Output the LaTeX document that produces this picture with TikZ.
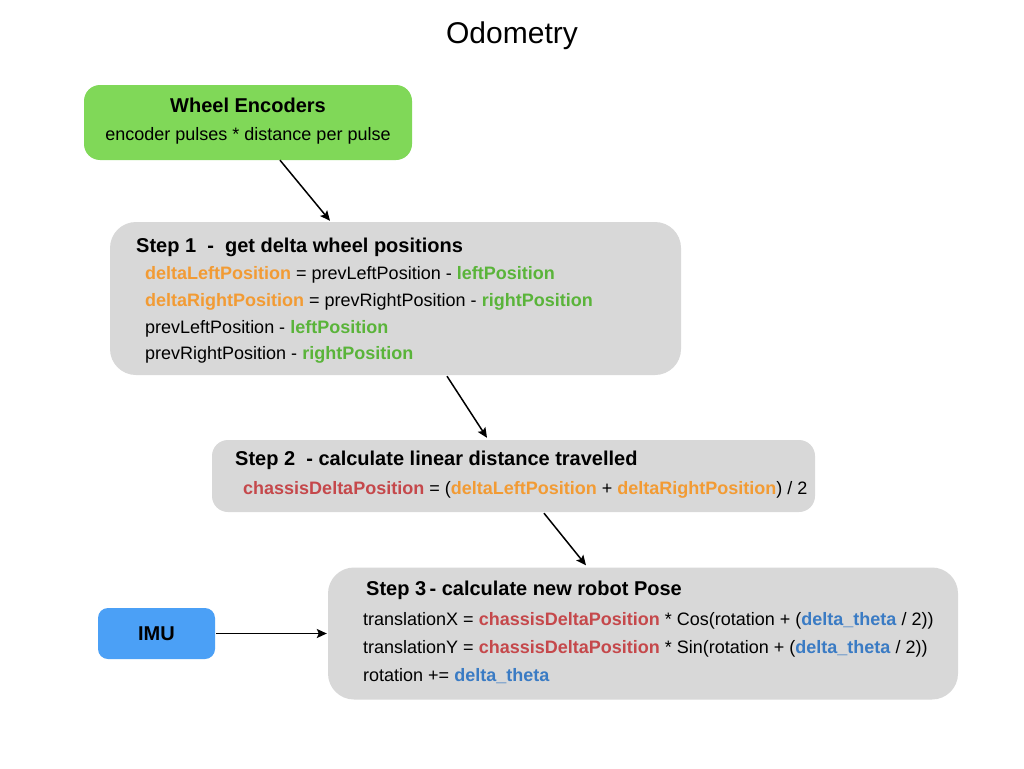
\documentclass[tikz,border=0pt]{standalone}
\usepackage{fontspec}
\setmainfont{Liberation Sans}
\usetikzlibrary{arrows.meta, positioning}

\definecolor{encgreen}{HTML}{80D858}
\definecolor{stepgray}{HTML}{D8D8D8}
\definecolor{imublue}{HTML}{4BA0F6}
\definecolor{varorange}{HTML}{F29B34}
\definecolor{vargreen}{HTML}{5AB43A}
\definecolor{varred}{HTML}{C5484B}
\definecolor{varblue}{HTML}{3A7BC4}

% coloured variable names
\newcommand{\vor}[1]{\textcolor{varorange}{\textbf{#1}}}
\newcommand{\vgr}[1]{\textcolor{vargreen}{\textbf{#1}}}
\newcommand{\vrd}[1]{\textcolor{varred}{\textbf{#1}}}
\newcommand{\vbl}[1]{\textcolor{varblue}{\textbf{#1}}}

\begin{document}
\begin{tikzpicture}[x=1pt, y=-1pt,
  every node/.style={font=\fontsize{18}{21}\selectfont},
  box/.style={rounded corners=16pt, inner sep=0pt},
  head/.style={anchor=base west, inner sep=0pt, font=\fontsize{20}{24}\selectfont\bfseries},
  line/.style={anchor=base west, inner sep=0pt},
  arr/.style={-{Stealth[length=10pt, width=9pt, inset=2pt]}, line width=1.5pt}]

\useasboundingbox[fill=white] (0,0) rectangle (1024,768);

% --- Title ---
\node[anchor=base, inner sep=0pt, font=\fontsize{30}{36}\selectfont] (title) at (512,44) {Odometry};

% --- Boxes ---
\node[box, fill=encgreen, minimum width=328pt, minimum height=75pt] (enc) at (248,122.5) {};
\node[box, fill=stepgray, rounded corners=26pt, minimum width=571pt, minimum height=153pt] (step1) at (395.5,298.5) {};
\node[box, fill=stepgray, minimum width=603pt, minimum height=72pt] (step2) at (513.5,476) {};
\node[box, fill=stepgray, rounded corners=26pt, minimum width=630pt, minimum height=132pt] (step3) at (643,633.5) {};
\node[box, fill=imublue, rounded corners=10pt, minimum width=117pt, minimum height=51pt] (imu) at (156.5,633.5) {};

% Wheel encoders text
\node[anchor=base, inner sep=0pt, font=\fontsize{20}{24}\selectfont\bfseries] (encH) at (248,112) {Wheel Encoders};
\node[anchor=base, inner sep=0pt] (encL) at (248,140) {encoder pulses * distance per pulse};

% IMU text
\node[anchor=base, inner sep=0pt, font=\fontsize{20}{24}\selectfont\bfseries] (imuH) at (156.5,640) {IMU};

% Step 1 text
\node[head] (s1h) at (136,252) {Step 1\ \ -\ \ get delta wheel positions};
\node[line] (s1a) at (145,279.5) {\vor{deltaLeftPosition} = prevLeftPosition - \vgr{leftPosition}};
\node[line] (s1b) at (145,306.5) {\vor{deltaRightPosition} = prevRightPosition - \vgr{rightPosition}};
\node[line] (s1c) at (145,333.5) {prevLeftPosition - \vgr{leftPosition}};
\node[line] (s1d) at (145,359.5) {prevRightPosition - \vgr{rightPosition}};

% Step 2 text
\node[head] (s2h) at (235,465) {Step 2\ \ - calculate linear distance travelled};
\node[line] (s2a) at (243,494.5) {\vrd{chassisDeltaPosition} = (\vor{deltaLeftPosition} + \vor{deltaRightPosition}) / 2};

% Step 3 text
\node[head] (s3h) at (366,595) {Step 3\,- calculate new robot Pose};
\node[line] (s3a) at (363,625.5) {translationX = \vrd{chassisDeltaPosition} * Cos(rotation + (\vbl{delta\_theta} / 2))};
\node[line] (s3b) at (363,653.5) {translationY = \vrd{chassisDeltaPosition} * Sin(rotation + (\vbl{delta\_theta} / 2))};
\node[line] (s3c) at (363,681.5) {rotation += \vbl{delta\_theta}};

% --- Connectors ---
\draw[arr] ([xshift=32pt]enc.south) -- ([xshift=-65.5pt, yshift=1pt]step1.north);
\draw[arr] ([xshift=51.5pt, yshift=-1pt]step1.south) -- ([xshift=-26.5pt, yshift=2pt]step2.north);
\draw[arr] ([xshift=30.5pt, yshift=-1pt]step2.south) -- ([xshift=-57pt, yshift=2pt]step3.north);
\draw[arr] ([xshift=1pt]imu.east) -- ([xshift=-1pt]step3.west);

\end{tikzpicture}
\end{document}
